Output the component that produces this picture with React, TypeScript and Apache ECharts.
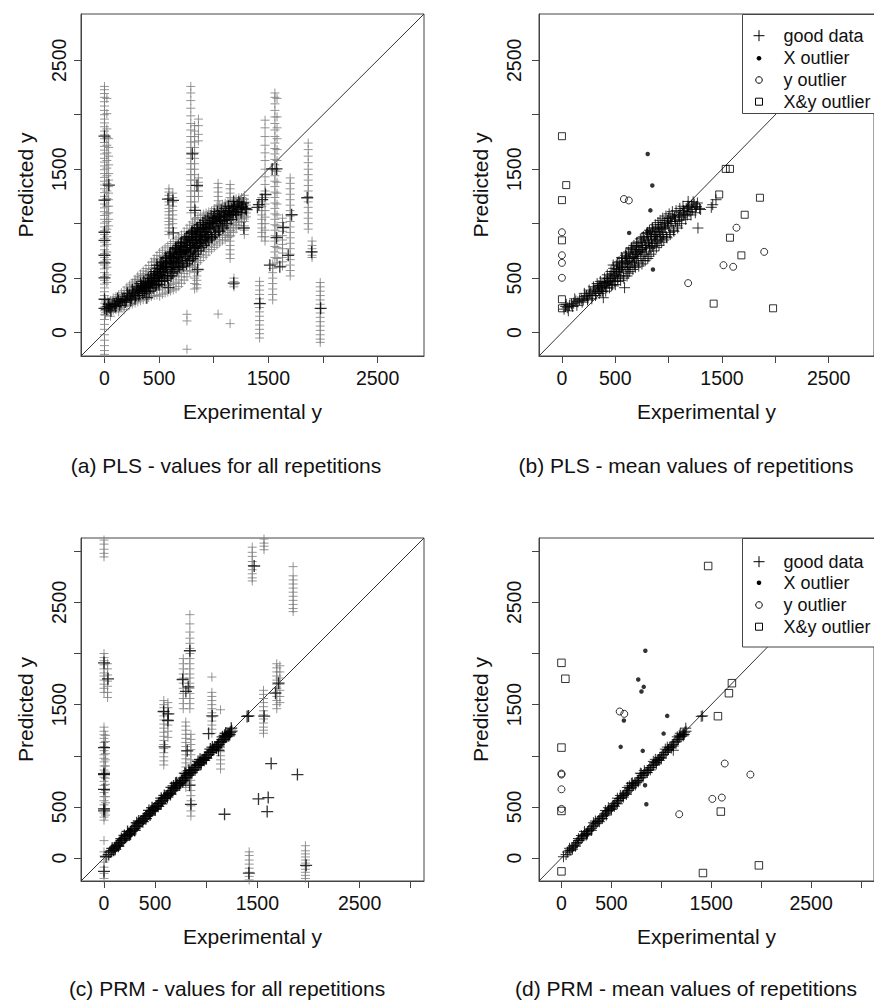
import React, { useEffect, useRef } from "react";
import * as echarts from "echarts";

const FONT = '"Liberation Sans", Arial, Helvetica, sans-serif';

// ---------- axes ----------
const ticksTop = [0, 500, 1000, 1500, 2000, 2500];
const ticksBottom = [0, 500, 1000, 1500, 2000, 2500, 3000];
const tickLabels = [0, 500, 1500, 2500];
const rangeTop = [-215, 2925];
const rangeBottom = [-225, 3130];

const xTitle = "Experimental y";
const yTitle = "Predicted y";
const legendLabels = ["good data", "X outlier", "y outlier", "X&y outlier"];
const captions = [
  "(a) PLS - values for all repetitions",
  "(b) PLS - mean values of repetitions",
  "(c) PRM - values for all repetitions",
  "(d) PRM - mean values of repetitions",
];

// ---------- PLS : mean values of repetitions ----------
const plsGood: number[][] = [
  [20, 215], [35, 240], [50, 228], [70, 250], [90, 262], [110, 270], [130, 290], [150, 282],
  [165, 300], [180, 310], [200, 298], [215, 330], [230, 340], [245, 318], [260, 355], [270, 372],
  [285, 340], [300, 380], [310, 400], [320, 362], [335, 410], [345, 392], [355, 430], [365, 378],
  [375, 445], [385, 420], [388, 320], [395, 460], [405, 435], [415, 470], [420, 410], [430, 495],
  [440, 455], [450, 520], [455, 480], [465, 430], [470, 540], [480, 500], [490, 560], [495, 470],
  [505, 530], [515, 585], [520, 500], [530, 555], [540, 610], [545, 520], [555, 575], [560, 640],
  [570, 600], [575, 520], [587, 412], [590, 660], [600, 580], [605, 700], [615, 630], [620, 545],
  [630, 680], [640, 720], [645, 600], [655, 650], [660, 760], [670, 700], [680, 620], [685, 740],
  [695, 790], [700, 680], [710, 720], [715, 640], [720, 800], [730, 760], [740, 700], [745, 830],
  [755, 780], [760, 660], [770, 720], [775, 850], [785, 800], [790, 740], [800, 880], [810, 830],
  [815, 700], [825, 770], [830, 900], [840, 860], [850, 790], [855, 930], [865, 880], [870, 820],
  [880, 950], [890, 900], [895, 840], [905, 970], [915, 920], [925, 860], [930, 990], [940, 950],
  [950, 900], [960, 1010], [970, 960], [980, 880], [990, 1030], [1000, 980], [1010, 920], [1020, 1050],
  [1030, 1000], [1045, 940], [1055, 1060], [1065, 1020], [1080, 980], [1090, 1080], [1100, 1030],
  [1115, 1100], [1125, 1060], [1140, 1120], [1150, 1090], [1165, 1140], [1175, 1080], [1183, 1204],
  [1190, 1150], [1200, 1110], [1215, 1170], [1225, 1130], [1240, 1180], [1255, 1150], [1260, 1158],
  [1275, 960], [1290, 1140], [1400, 1150], [1413, 1174], [1444, 1220],
  [480, 620], [520, 640], [560, 690], [600, 730], [650, 780], [700, 820], [750, 870], [800, 920],
  [850, 960], [620, 600], [680, 660], [740, 740], [790, 780], [840, 820], [880, 880], [920, 900],
  [40, 260], [60, 200], [100, 240], [120, 310], [140, 250], [190, 280], [210, 360], [240, 300],
  [255, 390], [280, 310], [295, 420], [315, 340], [330, 450], [350, 360], [360, 470], [380, 380],
  [400, 500], [410, 380], [425, 530], [445, 410], [460, 560], [475, 440], [485, 590], [500, 440],
  [510, 620], [525, 470], [535, 650], [550, 480], [565, 680], [580, 500], [595, 710], [610, 520],
  [625, 740], [635, 560], [650, 770], [665, 580], [675, 800], [690, 600], [705, 830], [720, 610],
  [735, 860], [750, 630], [765, 880], [780, 660], [795, 910], [805, 680], [820, 940], [835, 720],
  [845, 960], [860, 750], [875, 990], [885, 780], [900, 1010], [910, 800], [920, 1030], [935, 830],
  [945, 1050], [955, 850], [975, 1070], [985, 870], [1005, 1090], [1015, 900], [1035, 1110],
  [1050, 930], [1070, 1120], [1085, 960], [1105, 1140], [1120, 1000], [1135, 1160], [1160, 1040],
  [1180, 1160], [1210, 1080], [1230, 1200], [1250, 1100], [1270, 1190], [1300, 1130],
  [340, 430], [370, 410], [400, 450], [430, 470], [460, 500], [490, 520], [510, 560], [540, 580],
  [570, 630], [600, 650], [630, 640], [660, 690], [690, 720], [720, 740], [750, 760], [780, 800],
  [810, 850], [840, 880], [870, 900], [900, 930], [930, 960], [960, 970], [990, 1000], [1020, 1020],
  [1060, 1040], [1100, 1070], [1140, 1080], [1180, 1110], [560, 600], [610, 680], [700, 760],
  [760, 800], [820, 800], [880, 850], [940, 880], [1000, 1050],
];
const plsXOut: number[][] = [
  [804, 1640], [847, 1351], [829, 1122], [630, 915], [853, 579], [801, 930], [1046, 1070],
];
const plsYOut: number[][] = [
  [0, 921], [0, 710], [0, 640], [0, 503], [581, 1226], [627, 1213], [1636, 963], [1896, 741],
  [1514, 619], [1605, 604], [1183, 454],
];
const plsXYOut: number[][] = [
  [0, 1803], [40, 1354], [0, 1216], [0, 847], [0, 306], [0, 223], [1535, 1503], [1575, 1503],
  [1474, 1268], [1856, 1238], [1713, 1082], [1575, 871], [1682, 709], [1422, 266], [1979, 223],
];

// ---------- PLS : values for all repetitions (grey), columns [x, y values] ----------
const plsRepCols: [number, number[]][] = [
  [10, [182, 208, 236, 262, 290, 160]],
  [30, [194, 220, 246, 274, 300]],
  [55, [186, 214, 240, 268, 296, 150]],
  [80, [204, 232, 258, 286, 318]],
  [105, [212, 240, 270, 298, 330]],
  [130, [222, 254, 284, 316, 348, 190]],
  [155, [232, 264, 298, 330, 366]],
  [180, [242, 276, 312, 346, 384, 210]],
  [205, [244, 280, 318, 352, 386, 418]],
  [230, [252, 290, 326, 364, 402, 438]],
  [255, [262, 300, 340, 378, 418, 456]],
  [280, [272, 312, 352, 394, 434, 472, 488]],
  [305, [282, 324, 366, 408, 450, 490, 518]],
  [330, [292, 336, 380, 422, 466, 508, 538]],
  [355, [302, 346, 392, 436, 480, 524, 566]],
  [380, [304, 350, 398, 446, 492, 540, 588]],
  [405, [322, 368, 416, 464, 512, 560, 616]],
  [430, [332, 380, 430, 480, 530, 580, 646]],
  [455, [342, 392, 444, 494, 546, 598, 650, 678]],
  [480, [344, 398, 452, 506, 560, 614, 666, 708]],
  [505, [334, 392, 448, 506, 562, 620, 678, 736]],
  [530, [352, 410, 466, 524, 582, 638, 696, 756]],
  [555, [362, 420, 478, 536, 594, 652, 712, 778]],
  [580, [372, 432, 490, 548, 608, 666, 726, 796]],
  [605, [382, 442, 502, 562, 622, 682, 742, 818]],
  [630, [392, 452, 514, 574, 636, 698, 760, 836]],
  [655, [402, 464, 526, 588, 650, 714, 778, 858]],
  [680, [422, 484, 546, 608, 672, 736, 800, 876]],
  [705, [452, 512, 572, 634, 696, 758, 822, 898]],
  [730, [482, 542, 602, 664, 726, 790, 856, 926]],
  [755, [512, 570, 630, 692, 756, 820, 886, 958]],
  [780, [562, 616, 672, 730, 788, 848, 912, 986]],
  [805, [602, 654, 708, 764, 820, 878, 940, 1016]],
  [830, [622, 676, 730, 786, 842, 900, 962, 1036]],
  [855, [642, 696, 750, 806, 862, 920, 984, 1056]],
  [880, [662, 716, 772, 828, 884, 942, 1004, 1076]],
  [905, [692, 744, 798, 852, 908, 964, 1022, 1088]],
  [930, [712, 764, 818, 872, 926, 982, 1040, 1098]],
  [955, [742, 792, 844, 896, 950, 1004, 1058, 1108]],
  [980, [762, 812, 864, 916, 968, 1020, 1072, 1118]],
  [1005, [782, 834, 886, 938, 990, 1040, 1092, 1138]],
  [1030, [802, 854, 906, 958, 1008, 1060, 1110, 1156]],
  [1055, [822, 874, 924, 976, 1026, 1078, 1126, 1168]],
  [1080, [842, 892, 942, 992, 1042, 1092, 1140, 1178]],
  [1105, [852, 902, 952, 1002, 1052, 1100, 1148, 1188]],
  [1130, [872, 920, 968, 1016, 1064, 1112, 1158, 1198]],
  [1155, [892, 938, 986, 1032, 1078, 1124, 1168, 1208]],
  [1180, [922, 966, 1010, 1054, 1098, 1140, 1184, 1218]],
  [1205, [952, 994, 1036, 1078, 1120, 1162, 1204, 1228]],
  [1230, [982, 1022, 1062, 1102, 1142, 1182, 1238]],
  [1255, [1012, 1050, 1088, 1126, 1164, 1202, 1240]],
  [1280, [1042, 1078, 1114, 1150, 1188, 1228]],
  [1300, [1062, 1098, 1134, 1170, 1198]],
  // vertical strips
  [0, [2260, 2230, 2195, 2160, 2120, 2080, 2040, 2000, 1960, 1925, 1890, 1850, 1815, 1780, 1745, 1710, 1675, 1640, 1600, 1565, 1530, 1495, 1460, 1425, 1390, 1355, 1320, 1285, 1250, 1215, 1180, 1145, 1110, 1075, 1040, 1005, 970, 935, 900, 865, 830, 795, 760, 725, 690, 655, 620, 585, 550, 515, 480, 445, 410, 375, 340, 305, 270, 235, 200, 165, 120, 75, 30, -20, -70, -120, -165, -200]],
  [22, [2150, 2010, 1870, 1790, 1720, 1650, 1580, 1510, 1440, 1370, 1300, 1230, 1160, 1090, 1020, 950, 880, 810, 740, 670, 600, 530, 460]],
  [38, [1780, 1700, 1620, 1540, 1460, 1400, 1340, 1280, 1220, 1160, 1100, 1040, 980]],
  [590, [1320, 1290, 1260, 1230, 1200, 1170, 1140, 1110, 1080, 1050, 1020, 990, 960, 930, 900]],
  [625, [1280, 1240, 1200, 1160, 1120, 1080, 1040, 1000, 960]],
  [790, [2260, 2200, 2130, 2060, 1990, 1920, 1860, 1800, 1750, 1700, 1650, 1600, 1550, 1500, 1450, 1400, 1350, 1300, 1250, 1200, 1150, 1100]],
  [825, [1900, 1850, 1800, 1750, 1700, 1650, 1600, 1550, 1500, 1450, 1400, 1350, 1300, 1250, 1200, 1150, 1100, 1050, 1000, 950, 900, 850, 800, 750, 700, 650, 600, 550, 500, 450, 400]],
  [860, [1960, 1900, 1820, 1760, 1420, 1380, 1340, 1300, 1250]],
  [846, [560, 520, 480, 440, 410]],
  [755, [168, 107, -153]],
  [1040, [1370, 1330, 1290, 1250, 1210, 1170, 1130, 1090, 1050, 1010, 170]],
  [1150, [1360, 1320, 1280, 1240, 1200, 1160, 1120, 1080, 1040, 1000, 960, 920, 880, 840, 800, 760, 720, 680, 82]],
  [1185, [500, 470, 440, 420]],
  [1280, [1260, 1220, 1180, 1140, 1100, 1060, 1020, 980, 940, 900]],
  [1420, [470, 430, 390, 350, 310, 270, 230, 190, 150, 110, 70, 30, -10, -50]],
  [1440, [1240, 1200, 1160, 1120, 1080, 1040, 1000, 960, 920, 880]],
  [1470, [1950, 1880, 1800, 1720, 1650, 1580, 1500, 1430, 1360, 1300, 1240, 1180, 1120, 1060, 1000, 940, 880, 840]],
  [1560, [2200, 2160, 2100, 2040, 1980, 1920, 1860, 1800, 1740, 1690, 1640, 1590, 1540, 1490, 1440, 1390, 1340, 1290, 1240, 1190, 1140, 1090, 1040, 990, 940, 890, 840, 790, 740, 690]],
  [1580, [2150, 1980, 1880, 1780, 1680, 1580, 1480, 1380, 1280, 1180, 1080, 980, 880, 780, 680, 640]],
  [1540, [630, 590, 550, 500, 450, 400, 350, 300]],
  [1630, [1050, 1010, 970, 930, 890, 850, 810, 770, 730, 690, 650, 610]],
  [1700, [1420, 1370, 1320, 1270, 1220, 1170, 1120, 1070, 1020, 970, 920, 870, 820, 770, 720, 670, 620, 570, 520]],
  [1865, [1740, 1680, 1620, 1560, 1500, 1450, 1400, 1350, 1300, 1250, 1200, 1150, 1100, 1050, 1000, 950]],
  [1900, [840, 800, 770, 740, 710, 690]],
  [1975, [460, 420, 380, 340, 300, 260, 220, 180, 140, 100, 60, 20, -20, -60, -90]],
];

// ---------- PRM : mean values of repetitions ----------
const prmGood: number[][] = [
  [20, 12], [46, 33], [60, 58], [75, 70], [94, 75], [105, 100], [120, 118], [135, 126], [150, 146],
  [160, 150], [172, 171], [185, 176], [198, 192], [210, 206], [222, 215], [235, 231], [248, 240],
  [260, 255], [272, 266], [285, 281], [298, 290], [310, 306], [322, 314], [335, 333], [348, 339],
  [360, 356], [372, 363], [385, 382], [398, 389], [410, 407], [422, 413], [435, 431], [448, 440],
  [460, 457], [472, 464], [485, 481], [498, 488], [510, 507], [522, 512], [535, 532], [548, 538],
  [560, 557], [572, 563], [585, 582], [598, 587], [610, 606], [622, 612], [635, 633], [648, 636],
  [660, 656], [672, 662], [685, 682], [698, 686], [710, 706], [722, 712], [735, 733], [748, 735],
  [760, 757], [772, 760], [785, 782], [798, 786], [810, 806], [822, 811], [835, 833], [848, 836],
  [860, 856], [872, 860], [885, 882], [898, 886], [910, 905], [922, 911], [935, 933], [948, 935],
  [960, 957], [972, 960], [985, 982], [998, 986], [1010, 1006], [1022, 1011], [1035, 1033],
  [1048, 1036], [1060, 1056], [1072, 1061], [1085, 1082], [1098, 1086], [1110, 1106], [1122, 1112],
  [1135, 1133], [1148, 1137], [1160, 1157], [1172, 1162], [1185, 1182], [1198, 1188], [1210, 1207],
  [1222, 1212], [1235, 1230], [1248, 1240], [1400, 1385], [1414, 1390], [790, 830], [1120, 1054],
  [660, 690], [560, 530], [300, 270],
  [80, 95], [140, 115], [200, 220], [260, 235], [320, 345], [380, 355], [440, 465], [500, 475],
  [560, 585], [620, 595], [680, 705], [740, 715], [800, 825], [860, 835], [920, 945], [980, 955],
  [1040, 1065], [1100, 1075], [1160, 1185], [1220, 1195], [1245, 1270], [1190, 1220], [950, 920],
  [700, 730], [450, 420], [230, 260],
  [110, 85], [170, 190], [250, 225], [340, 362], [410, 385], [470, 492], [530, 505], [590, 612],
  [650, 622], [710, 735], [770, 745], [830, 855], [890, 862], [940, 965], [1000, 975], [1060, 1085],
  [1120, 1095], [1180, 1200], [1230, 1208],
];
const prmXOut: number[][] = [
  [840, 2027], [769, 1746], [824, 1674], [801, 1629], [625, 1345], [1059, 1390], [1023, 1217],
  [593, 1087], [814, 1048], [837, 712], [850, 525],
];
const prmYOut: number[][] = [
  [0, 816], [0, 826], [0, 672], [0, 480], [583, 1433], [629, 1410], [1635, 924], [1892, 816],
  [1511, 578], [1606, 591], [1179, 428],
];
const prmXYOut: number[][] = [
  [1469, 2856], [0, 1909], [39, 1753], [1707, 1710], [1677, 1612], [1567, 1387], [0, 1080],
  [0, 460], [1596, 454], [0, -131], [1417, -147], [1977, -72],
];

// ---------- PRM : values for all repetitions (grey) ----------
const prmRepCols: [number, number[]][] = [
  [0, [3110, 3070, 3020, 2980, 2945]],
  [0, [2000, 1960, 1930, 1890, 1850, 1810, 1780, 1740, 1700, 1660, 1620]],
  [35, [1900, 1850, 1790, 1730, 1680, 1620, 1570]],
  [0, [1280, 1240, 1205, 1170, 1130, 1090, 1050, 1010, 975, 940, 900, 860, 820, 790, 750, 710, 670, 640, 600, 560, 520, 480, 440, 400, 370, 170, 60, 20, -40, -90, -150, -200]],
  [15, [1200, 1140, 1080, 1020, 960, 900, 840, 780, 720, 660, 600, 540, 480, 420]],
  [585, [1540, 1500, 1470, 1430, 1390, 1350, 1310, 1270, 1230, 1190, 1150, 1110, 1070, 1030, 990, 950, 910]],
  [625, [1520, 1470, 1410, 1350, 1300, 1240, 1180]],
  [775, [1950, 1900, 1850, 1800, 1760, 1710, 1660, 1610, 1560, 1510, 1460]],
  [840, [2380, 2290, 2210, 2150, 2100, 2050, 2000, 1950, 1900, 1850, 1800, 1760, 1710, 1660, 1610, 1560, 1510, 1460]],
  [800, [1330, 1290, 1250, 1210, 1170, 1130, 1090, 1050, 1010, 970, 930, 890, 850, 810, 770, 730, 690]],
  [850, [1210, 1160, 1110, 1060, 1010, 960, 910, 860, 810, 760, 710, 660, 610, 560, 510, 460, 410]],
  [1055, [1770, 1620, 1580, 1540, 1500, 1460, 1420, 1380, 1340, 1300, 1260, 1220]],
  [1140, [1450, 1080, 1040, 1000, 960, 920, 870]],
  [1450, [3040, 2990, 2950, 2900, 2860, 2820, 2780, 2740, 2710]],
  [1420, [60, 25, -20, -60, -100, -140, -180, -215]],
  [1565, [3120, 3080, 3050, 3015]],
  [1560, [1640, 1600, 1560, 1520, 1480, 1440, 1400, 1360, 1320, 1280, 1250, 1220]],
  [1690, [1900, 1860, 1820, 1780, 1740, 1700, 1660, 1620, 1580, 1540, 1500, 1460]],
  [1720, [1880, 1820, 1760, 1700, 1640, 1580, 1520]],
  [1850, [2850, 2760, 2720, 2680, 2640, 2600, 2560, 2520, 2480, 2440, 2410]],
  [1970, [120, 70, 40, 10, -20, -50, -80, -110, -140, -170, -200]],
];
const prmRepDiag: number[][] = [
  [30, 20], [60, 75], [90, 70], [120, 130], [150, 135], [180, 195], [210, 190], [240, 255],
  [270, 250], [300, 320], [330, 310], [360, 375], [390, 370], [420, 440], [450, 430], [480, 495],
  [510, 500], [540, 560], [570, 550], [600, 615], [630, 620], [660, 680], [690, 670], [720, 740],
  [750, 735], [780, 800], [810, 790], [840, 860], [870, 850], [900, 920], [930, 910], [960, 975],
  [990, 980], [1020, 1040], [1050, 1030], [1080, 1100], [1110, 1090], [1140, 1160], [1170, 1150],
  [1200, 1220], [1230, 1215], [1250, 1260],
];

// ---------- helpers ----------
const colsToPts = (cols: [number, number[]][]) =>
  cols.flatMap(([x, ys]) => ys.map((y) => [x, y]));

const PLUS = "path://M0,5L10,5M5,0L5,10";

const plusSeries = (idx: number, data: number[][], color: string, size: number, width: number, z: number) => ({
  type: "scatter",
  xAxisIndex: idx,
  yAxisIndex: idx,
  data,
  symbol: PLUS,
  symbolSize: size,
  itemStyle: { color: "rgba(0,0,0,0)", borderColor: color, borderWidth: width },
  silent: true,
  z,
});
const dotSeries = (idx: number, data: number[][]) => ({
  type: "scatter",
  xAxisIndex: idx,
  yAxisIndex: idx,
  data,
  symbol: "circle",
  symbolSize: 4.5,
  itemStyle: { color: "#000" },
  silent: true,
  z: 4,
});
const openSeries = (idx: number, data: number[][], symbol: string, size: number) => ({
  type: "scatter",
  xAxisIndex: idx,
  yAxisIndex: idx,
  data,
  symbol,
  symbolSize: size,
  itemStyle: { color: "rgba(0,0,0,0)", borderColor: "#000", borderWidth: 1 },
  silent: true,
  z: 4,
});
const diagSeries = (idx: number, r: number[]) => ({
  type: "line",
  xAxisIndex: idx,
  yAxisIndex: idx,
  data: [[r[0], r[0]], [r[1], r[1]]],
  symbol: "none",
  lineStyle: { color: "#333", width: 1 },
  silent: true,
  z: 1,
});

const TEXT = "#111";
const fmt = (v: number) => String(v);

const makeX = (idx: number, r: number[], ticks: number[]) => ({
  type: "value",
  gridIndex: idx,
  min: r[0],
  max: r[1],
  axisLine: { show: true, onZero: false, lineStyle: { color: "#444", width: 1 } },
  splitLine: { show: false },
  axisTick: { show: true, length: 7, customValues: ticks, lineStyle: { color: "#444", width: 1 } },
  axisLabel: { customValues: tickLabels, formatter: fmt, color: TEXT, fontSize: 19.5, fontFamily: FONT, margin: 12 },
  name: xTitle,
  nameLocation: "middle",
  nameGap: 45,
  nameTextStyle: { color: TEXT, fontSize: 21, fontFamily: FONT },
});
const makeY = (idx: number, r: number[], ticks: number[], margin: number, gap: number) => ({
  type: "value",
  gridIndex: idx,
  min: r[0],
  max: r[1],
  axisLine: { show: true, onZero: false, lineStyle: { color: "#444", width: 1 } },
  splitLine: { show: false },
  axisTick: { show: true, length: 7, customValues: ticks, lineStyle: { color: "#444", width: 1 } },
  axisLabel: { customValues: tickLabels, formatter: fmt, rotate: 90, color: TEXT, fontSize: 19.5, fontFamily: FONT, margin },
  name: yTitle,
  nameLocation: "middle",
  nameGap: gap,
  nameTextStyle: { color: TEXT, fontSize: 21, fontFamily: FONT },
});

const legendGraphic = (top: number, height: number, rows: number[]) => {
  const sx = 759;
  const tx = 783.5;
  const els: any[] = [
    {
      type: "rect",
      shape: { x: 742.5, y: top + 0.5, width: 150, height },
      style: { fill: "#fff", stroke: "#444", lineWidth: 1 },
      z: 100,
    },
  ];
  const cy = rows.map((r) => top + r);
  els.push({ type: "line", shape: { x1: sx - 5.5, y1: cy[0], x2: sx + 5.5, y2: cy[0] }, style: { stroke: "#000", lineWidth: 1 }, z: 101 });
  els.push({ type: "line", shape: { x1: sx, y1: cy[0] - 5.5, x2: sx, y2: cy[0] + 5.5 }, style: { stroke: "#000", lineWidth: 1 }, z: 101 });
  els.push({ type: "circle", shape: { cx: sx, cy: cy[1], r: 2.3 }, style: { fill: "#000" }, z: 101 });
  els.push({ type: "circle", shape: { cx: sx, cy: cy[2], r: 3.3 }, style: { fill: "none", stroke: "#000", lineWidth: 1 }, z: 101 });
  els.push({ type: "rect", shape: { x: sx - 3.5, y: cy[3] - 3.5, width: 7, height: 7 }, style: { fill: "none", stroke: "#000", lineWidth: 1 }, z: 101 });
  legendLabels.forEach((t, i) => {
    els.push({
      type: "text",
      x: tx,
      y: cy[i],
      style: { text: t, fill: TEXT, font: `18px ${FONT}`, textAlign: "left", textVerticalAlign: "middle" },
      z: 101,
    });
  });
  return els;
};

const captionGraphic = (text: string, x: number, y: number) => ({
  type: "text",
  x,
  y,
  style: { text, fill: TEXT, font: `21px ${FONT}`, textAlign: "center", textVerticalAlign: "middle" },
  z: 100,
});

export default function App() {
  const ref = useRef<HTMLDivElement>(null);

  useEffect(() => {
    document.body.style.margin = "0";
    if (!ref.current) return;
    const chart = echarts.init(ref.current, null, { renderer: "svg" });

    const plsMeansAll = [...plsGood, ...plsXOut, ...plsYOut, ...plsXYOut];
    const prmMeansAll = [...prmGood, ...prmXOut, ...prmYOut, ...prmXYOut];

    const gridBase = { show: true, borderColor: "#444", borderWidth: 1, backgroundColor: "transparent" };
    const option: any = {
      animation: false,
      backgroundColor: "#fff",
      grid: [
        { ...gridBase, left: 81, top: 14, width: 343, height: 342 },
        { ...gridBase, left: 539, top: 14, width: 343, height: 342 },
        { ...gridBase, left: 81, top: 538, width: 343, height: 343 },
        { ...gridBase, left: 539, top: 538, width: 343, height: 343 },
      ],
      xAxis: [
        makeX(0, rangeTop, ticksTop),
        makeX(1, rangeTop, ticksTop),
        makeX(2, rangeBottom, ticksBottom),
        makeX(3, rangeBottom, ticksBottom),
      ],
      yAxis: [
        makeY(0, rangeTop, ticksTop, 12, 45),
        makeY(1, rangeTop, ticksTop, 15, 48),
        makeY(2, rangeBottom, ticksBottom, 12, 45),
        makeY(3, rangeBottom, ticksBottom, 15, 48),
      ],
      series: [
        diagSeries(0, rangeTop),
        plusSeries(0, colsToPts(plsRepCols), "#7c7c7c", 9, 1, 2),
        plusSeries(0, plsMeansAll, "#000", 12, 1.3, 3),

        diagSeries(1, rangeTop),
        plusSeries(1, plsGood, "#000", 11, 1, 3),
        dotSeries(1, plsXOut),
        openSeries(1, plsYOut, "circle", 7),
        openSeries(1, plsXYOut, "rect", 7),

        diagSeries(2, rangeBottom),
        plusSeries(2, [...colsToPts(prmRepCols), ...prmRepDiag], "#7c7c7c", 9, 1, 2),
        plusSeries(2, prmMeansAll, "#000", 12, 1.3, 3),

        diagSeries(3, rangeBottom),
        plusSeries(3, prmGood, "#000", 11, 1, 3),
        dotSeries(3, prmXOut),
        openSeries(3, prmYOut, "circle", 7),
        openSeries(3, prmXYOut, "rect", 7.5),
      ],
      graphic: {
        elements: [
          ...legendGraphic(14, 99, [21.7, 44.3, 66, 87.7]),
          ...legendGraphic(538, 108.5, [23.7, 44.7, 67, 88.7]),
          captionGraphic(captions[0], 226, 465),
          captionGraphic(captions[1], 686, 465),
          captionGraphic(captions[2], 227, 988),
          captionGraphic(captions[3], 686, 988),
        ],
      },
    };
    chart.setOption(option);
    return () => chart.dispose();
  }, []);

  return <div ref={ref} style={{ width: 874, height: 1001 }} />;
}
